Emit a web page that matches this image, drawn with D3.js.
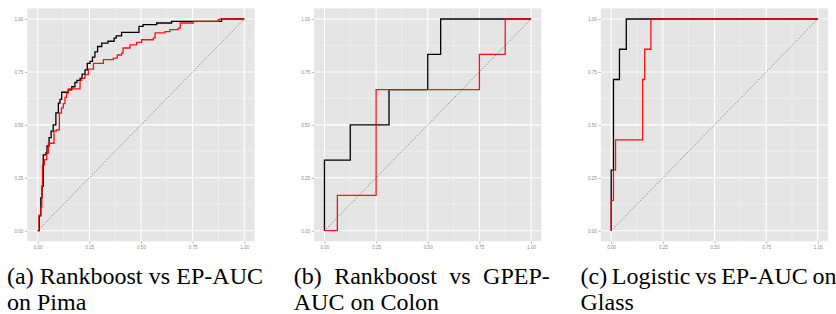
<!DOCTYPE html>
<html>
<head>
<meta charset="utf-8">
<script src="https://cdnjs.cloudflare.com/ajax/libs/d3/7.8.5/d3.min.js"></script>
<style>
  body { margin: 0; background: #fff; }
  svg { display: block; }
</style>
</head>
<body>
<script>
// axis ticks shared by every panel
var tickValues = [0, 0.25, 0.5, 0.75, 1];
var tickLabels = ['0.00', '0.25', '0.50', '0.75', '1.00'];
var minorValues = [0.125, 0.375, 0.625, 0.875];

// (a) Pima: corners of each ROC step (fpr, tpr)
var pimaRankFpr = [0, 0.008, 0.015, 0.021, 0.027, 0.04, 0.045, 0.055, 0.065, 0.075, 0.088, 0.1, 0.108, 0.116, 0.148, 0.165, 0.18, 0.19, 0.205, 0.215, 0.229, 0.24, 0.253, 0.265, 0.277, 0.29, 0.31, 0.34, 0.37, 0.38, 0.406, 0.49, 0.51, 0.576, 0.648, 0.89, 1];
var pimaRankTpr = [0, 0.07, 0.155, 0.21, 0.358, 0.367, 0.40, 0.44, 0.47, 0.50, 0.557, 0.603, 0.62, 0.654, 0.665, 0.68, 0.70, 0.71, 0.72, 0.74, 0.76, 0.79, 0.80, 0.82, 0.845, 0.87, 0.886, 0.895, 0.91, 0.92, 0.937, 0.965, 0.973, 0.981, 0.989, 1, 1];
var pimaEpFpr = [0, 0.006, 0.015, 0.02, 0.023, 0.032, 0.044, 0.052, 0.079, 0.09, 0.105, 0.115, 0.124, 0.132, 0.14, 0.148, 0.205, 0.213, 0.229, 0.245, 0.27, 0.318, 0.366, 0.385, 0.406, 0.413, 0.447, 0.479, 0.503, 0.56, 0.568, 0.616, 0.64, 0.68, 0.69, 0.753, 0.874, 0.882, 1];
var pimaEpTpr = [0, 0.074, 0.11, 0.21, 0.31, 0.336, 0.366, 0.413, 0.47, 0.476, 0.555, 0.58, 0.6, 0.63, 0.65, 0.67, 0.71, 0.72, 0.737, 0.763, 0.79, 0.808, 0.815, 0.83, 0.839, 0.863, 0.878, 0.89, 0.902, 0.91, 0.934, 0.94, 0.95, 0.957, 0.981, 0.989, 0.997, 1, 1];

// (b) Colon
var colonRankFpr = [0, 0, 0.125, 0.3125, 0.5, 0.5625, 1];
var colonRankTpr = [0, 0.3333, 0.5, 0.6667, 0.8333, 1, 1];
var colonEpFpr = [0, 0.0625, 0.25, 0.75, 0.875, 1];
var colonEpTpr = [0, 0.1667, 0.6667, 0.8333, 1, 1];

// (c) Glass
var glassLogFpr = [0, 0, 0.011, 0.04, 0.073, 1];
var glassLogTpr = [0, 0.2857, 0.7143, 0.8571, 1, 1];
var glassEpFpr = [0, 0, 0.011, 0.021, 0.152, 0.162, 0.192, 1];
var glassEpTpr = [0, 0.1429, 0.2857, 0.4286, 0.7143, 0.8571, 1, 1];

var captions = [
  ['(a) Rankboost vs EP-AUC', 'on Pima'],
  ['(b) Rankboost vs GPEP-', 'AUC on Colon'],
  ['(c) Logistic vs EP-AUC on', 'Glass']
];

function zipPts(xs, ys) {
  return xs.map(function (x, i) { return [x, ys[i]]; });
}

var panels = [
  { black: zipPts(pimaRankFpr, pimaRankTpr), red: zipPts(pimaEpFpr, pimaEpTpr) },
  { black: zipPts(colonRankFpr, colonRankTpr), red: zipPts(colonEpFpr, colonEpTpr) },
  { black: zipPts(glassLogFpr, glassLogTpr), red: zipPts(glassEpFpr, glassEpTpr) }
];

var width = 836, height = 314;
var svg = d3.select('body').append('svg').attr('width', width).attr('height', height);

var plotW = 206.6, plotH = 211.7;
var panelStep = 286.75;
var plotTop = 19;

panels.forEach(function (p, i) {
  var left = 37.7 + i * panelStep;
  var x = d3.scaleLinear().domain([0, 1]).range([left, left + plotW]);
  var y = d3.scaleLinear().domain([0, 1]).range([plotTop + plotH, plotTop]);
  var x0 = x(-0.05), x1 = x(1.05), y0 = y(-0.05), y1 = y(1.05);

  var g = svg.append('g');
  g.append('rect')
    .attr('x', x0).attr('y', y1)
    .attr('width', x1 - x0).attr('height', y0 - y1)
    .attr('fill', '#e5e5e5');

  // minor grid
  g.selectAll('.mx').data(minorValues).enter().append('line')
    .attr('x1', function (d) { return x(d); }).attr('x2', function (d) { return x(d); })
    .attr('y1', y1).attr('y2', y0)
    .attr('stroke', '#f2f2f2').attr('stroke-width', 0.6);
  g.selectAll('.my').data(minorValues).enter().append('line')
    .attr('y1', function (d) { return y(d); }).attr('y2', function (d) { return y(d); })
    .attr('x1', x0).attr('x2', x1)
    .attr('stroke', '#f2f2f2').attr('stroke-width', 0.6);

  // major grid
  g.selectAll('.gx').data(tickValues).enter().append('line')
    .attr('x1', function (d) { return x(d); }).attr('x2', function (d) { return x(d); })
    .attr('y1', y1).attr('y2', y0)
    .attr('stroke', '#fff').attr('stroke-width', 1.1);
  g.selectAll('.gy').data(tickValues).enter().append('line')
    .attr('y1', function (d) { return y(d); }).attr('y2', function (d) { return y(d); })
    .attr('x1', x0).attr('x2', x1)
    .attr('stroke', '#fff').attr('stroke-width', 1.1);

  // axes
  var xAxis = d3.axisBottom(x).tickValues(tickValues)
    .tickFormat(function (d, k) { return tickLabels[k]; })
    .tickSize(2.5).tickPadding(1.5);
  var yAxis = d3.axisLeft(y).tickValues(tickValues)
    .tickFormat(function (d, k) { return tickLabels[k]; })
    .tickSize(2.5).tickPadding(1.5);

  var gx = g.append('g').attr('transform', 'translate(0,' + y0 + ')').call(xAxis);
  var gy = g.append('g').attr('transform', 'translate(' + x0 + ',0)').call(yAxis);
  [gx, gy].forEach(function (a) {
    a.select('.domain').remove();
    a.selectAll('line').attr('stroke', '#8c8c8c').attr('stroke-width', 0.6);
    a.selectAll('text').attr('fill', '#8c8c8c')
      .style('font-family', "'Liberation Sans', Arial, sans-serif").style('font-size', '4.6px');
  });

  // chance diagonal
  g.append('line')
    .attr('x1', x(0)).attr('y1', y(0)).attr('x2', x(1)).attr('y2', y(1))
    .attr('stroke', '#555').attr('stroke-width', 0.8)
    .attr('stroke-dasharray', '1,1.6');

  var line = d3.line()
    .x(function (d) { return x(d[0]); })
    .y(function (d) { return y(d[1]); })
    .curve(d3.curveStepAfter);

  g.append('path').datum(p.black).attr('d', line)
    .attr('fill', 'none').attr('stroke', '#000').attr('stroke-width', 1.3);
  g.append('path').datum(p.red).attr('d', line)
    .attr('fill', 'none').attr('stroke', '#ff0000').attr('stroke-width', 1.3)
    .attr('stroke-opacity', 0.92);
});

// captions: Times-like serif; glyphs squeezed to Times widths if the font is wider
var capFont = "'Liberation Serif', 'Tinos', 'Times New Roman', 'DejaVu Serif', serif";
var capSize = 24;
var capLeft = 7, capWidth = 256;

function addWord(txt, x, yy) {
  return svg.append('text')
    .attr('x', x).attr('y', yy)
    .style('font-family', capFont)
    .style('font-size', capSize + 'px')
    .attr('fill', '#000')
    .text(txt);
}

// "AUC on Colon" is 6.056 em wide in Times metrics
var probe = addWord('AUC on Colon', 0, -50);
var squeeze = Math.min(1, 6.056 * capSize / probe.node().getComputedTextLength());
probe.remove();

captions.forEach(function (lines, i) {
  var cx = capLeft + i * panelStep;
  lines.forEach(function (txt, j) {
    var yy = 284 + j * 26;
    var words = txt.split(' ');
    var nodes = words.map(function (w) { return addWord(w, cx, yy); });
    var widths = nodes.map(function (n) { return n.node().getComputedTextLength() * squeeze; });
    nodes.forEach(function (n, k) {
      if (squeeze < 1) n.attr('textLength', widths[k]).attr('lengthAdjust', 'spacingAndGlyphs');
    });
    var total = d3.sum(widths);
    var gap = j === 0 ? (capWidth - total) / (words.length - 1) : 0.25 * capSize;
    var pos = cx;
    nodes.forEach(function (n, k) {
      n.attr('x', pos);
      pos += widths[k] + gap;
    });
  });
});
</script>
</body>
</html>
